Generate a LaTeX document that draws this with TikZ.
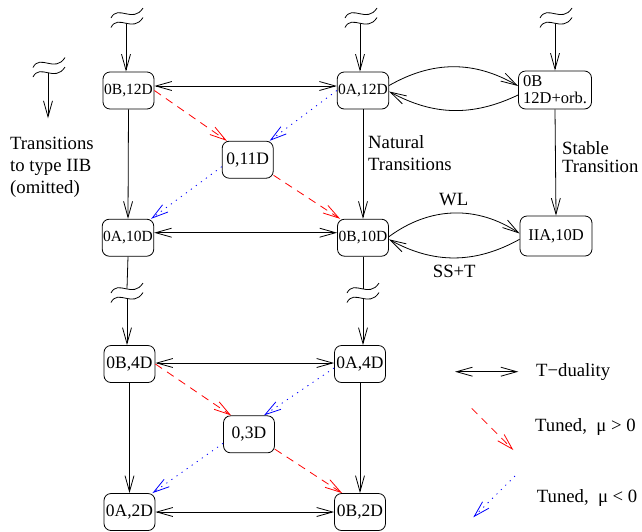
\documentclass[tikz,border=0pt]{standalone}
\usepackage{fontspec}
\setmainfont{Liberation Serif}
\usetikzlibrary{arrows.meta}
\begin{document}
\begin{tikzpicture}[x=1pt,y=-1pt,
  box/.style={draw, line width=0.8pt, rounded corners=7pt, minimum width=51pt, minimum height=37pt, inner sep=1pt},
  fs/.style={font=\rmfamily\fontsize{15.5}{17}\selectfont},
  fb/.style={font=\rmfamily\fontsize{17.5}{19}\selectfont},
  fm/.style={font=\rmfamily\fontsize{16.5}{17}\selectfont},
  lab/.style={font=\rmfamily\fontsize{18.7}{22}\selectfont, inner sep=0pt},
  arr/.style={-{Straight Barb[length=16pt,width=9pt]}, line width=0.8pt},
  darr/.style={{Straight Barb[length=16pt,width=9pt]}-{Straight Barb[length=16pt,width=9pt]}, line width=0.8pt},
  plain/.style={line width=0.8pt},
  tpos/.style={arr, red, dash pattern=on 8pt off 6pt},
  tneg/.style={arr, blue, dash pattern=on 1.2pt off 5pt},
  wig/.pic={
    \draw[line width=0.8pt] (-16,5) .. controls (-9,-9) and (6,11) .. (16,-5);
    \draw[line width=0.8pt] (-16,14.5) .. controls (-9,0.5) and (6,20.5) .. (16,4.5);
  }
]
\useasboundingbox (0,0) rectangle (642,531);

% nodes
\node[box,fs] (B12) at (128.5,90.5) {0B,12D};
\node[box,fs] (A12) at (363,90.5) {0A,12D};
\node[box,fm,minimum width=73pt,minimum height=38pt,align=left] (Borb) at (555,90) {0B\\12D+orb.};
\node[box,fb] (N11) at (247.7,159.7) {0,11D};
\node[box,fs] (A10) at (128,237.7) {0A,10D};
\node[box,fs] (B10) at (363,237.7) {0B,10D};
\node[box,fm,minimum width=72pt,minimum height=40pt] (IIA) at (556,236) {IIA,10D};
\node[box,fb] (B4) at (129.5,364) {0B,4D};
\node[box,fb] (A4) at (360,364) {0A,4D};
\node[box,fb] (N3) at (249,434.3) {0,3D};
\node[box,fb] (A2) at (129.5,512) {0A,2D};
\node[box,fb] (B2) at (360,512) {0B,2D};

% wiggles
\pic at (127,13) {wig};
\pic at (361,13) {wig};
\pic at (556,13) {wig};
\pic at (49,62.5) {wig};
\pic at (127,288) {wig};
\pic at (363,288) {wig};

\coordinate (wB) at (126,23.5);
\coordinate (wA) at (360,23.5);
\coordinate (wO) at (555,23.5);
\coordinate (wL) at (48,72.5);
\coordinate (wL2) at (48,118.3);
\coordinate (mLa) at (127,288.5);
\coordinate (mLb) at (127,298);
\coordinate (mRa) at (363,288.5);
\coordinate (mRb) at (363,298);

\draw[arr] (wB) -- (wB |- B12.north);
\draw[arr] (wA) -- (wA |- A12.north);
\draw[arr] (wO) -- (wO |- Borb.north);
\draw[arr] (wL) -- (wL2);

% vertical arrows
\draw[arr] (B12.south) -- (A10.north);
\draw[arr] (A12.south) -- (B10.north);
\draw[arr] (Borb.south) -- (IIA.north);
\draw[plain] (A10.south) -- (mLa);
\draw[arr] (mLb) -- (mLb |- B4.north);
\draw[plain] (B10.south) -- (mRa);
\draw[arr] (mRb) -- (mRb |- A4.north);
\draw[arr] (B4.south) -- (A2.north);
\draw[arr] (A4.south) -- (B2.north);

% horizontal T-duality
\draw[darr] ([yshift=4.5pt]B12.east) -- ([yshift=4.5pt]A12.west);
\draw[darr] ([yshift=5pt]A10.east) -- ([yshift=5pt]B10.west);
\draw[darr] ([yshift=1pt]B4.east) -- ([yshift=1pt]A4.west);
\draw[darr] (A2.east) -- (B2.west);

% curved arrows
\draw[arr] ([yshift=5pt]A12.east) to[bend left=30] ([yshift=4pt]Borb.west);
\draw[arr] ([yshift=-5pt]Borb.west) to[bend left=27] ([yshift=-1pt]A12.east);
\draw[arr] ([yshift=1pt]B10.east) to[bend left=35] node[lab,above=7pt] (wl) {WL} ([yshift=2.5pt]IIA.west);
\draw[arr] ([yshift=-3.3pt]IIA.west) to[bend left=29] node[lab,below=7pt] (sst) {SS+T} ([yshift=-1.6pt]B10.east);

% diagonals
\draw[tpos] (B12.east) -- ([xshift=5pt]N11.north west);
\draw[tpos] ([yshift=3.3pt]N11.south east) -- ([xshift=3pt]B10.north west);
\draw[tneg] (A12.west) -- ([xshift=-4pt]N11.north east);
\draw[tneg] ([yshift=-7pt]N11.west) -- ([xshift=-3pt]A10.north east);
\draw[tpos] (B4.east) -- ([xshift=8pt]N3.north west);
\draw[tpos] ([yshift=4pt]N3.south east) -- ([xshift=8pt]B2.north west);
\draw[tneg] ([yshift=-4pt]A4.west) -- ([xshift=-11pt]N3.north east);
\draw[tneg] ([yshift=-9pt]N3.west) -- ([xshift=-3pt]A2.north east);

% labels
\node[lab,anchor=north west,align=left] (tt) at (10,137) {Transitions\\to type IIB\\(omitted)};
\node[lab,anchor=north west,align=left,font=\rmfamily\fontsize{18.7}{22.7}\selectfont] (nt) at (368,135) {Natural\\Transitions};
\node[lab,anchor=north west,align=left,font=\rmfamily\fontsize{18.7}{17.8}\selectfont] (st) at (562,141.5) {Stable\\Transition};

% legend
\coordinate (l1a) at (455,371.7);
\coordinate (l1b) at (518.3,371.7);
\draw[darr] (l1a) -- (l1b);
\node[lab,anchor=base west] (lt1) at (536,376) {T−duality};
\coordinate (l2a) at (471.7,408.3);
\coordinate (l2b) at (513.3,450);
\draw[tpos] (l2a) -- (l2b);
\node[lab,anchor=base west] (lt2) at (535,431) {Tuned,\ \ μ > 0};
\coordinate (l3a) at (515,476);
\coordinate (l3b) at (473.3,517.3);
\draw[tneg] (l3a) -- (l3b);
\node[lab,anchor=base west] (lt3) at (536.7,502.6) {Tuned,\ \ μ < 0};
\end{tikzpicture}
\end{document}
